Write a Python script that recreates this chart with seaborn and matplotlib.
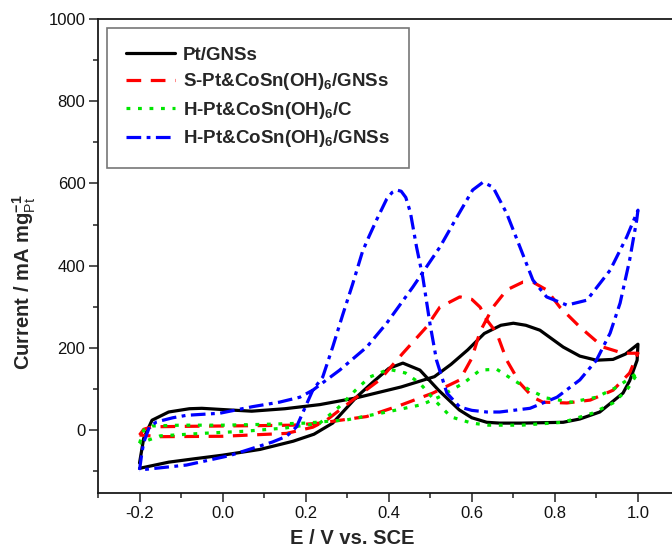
import matplotlib
matplotlib.use("Agg")
import matplotlib.pyplot as plt
from matplotlib.ticker import MultipleLocator
import seaborn as sns
import pandas as pd

# Cyclic voltammograms: anodic sweep from -0.2 V to 1.0 V, then the return sweep.
pt_gnss_E = [-0.2, -0.19, -0.17, -0.13, -0.08, -0.05, 0.0, 0.07, 0.15, 0.234, 0.32, 0.43, 0.51,
             0.55, 0.59, 0.63, 0.67, 0.70, 0.73, 0.764, 0.82, 0.86, 0.90, 0.94, 0.97, 1.0,
             0.998, 0.98, 0.964, 0.908, 0.86, 0.82, 0.72, 0.667, 0.636, 0.60, 0.57, 0.52,
             0.475, 0.434, 0.40, 0.36, 0.322, 0.265, 0.22, 0.17, 0.09, 0.0, -0.07, -0.13, -0.2]
pt_gnss_I = [-80, -20, 24, 44, 52, 53, 50, 46, 52, 62, 78, 105, 130,
             160, 195, 235, 255, 260, 255, 243, 202, 180, 170, 172, 185, 209,
             170, 120, 90, 44, 27, 19, 17, 17, 19, 30, 49, 97,
             146, 163, 150, 115, 80, 17, -10, -27, -47, -61, -70, -78, -93]

s_ptco_E = [-0.2, -0.19, -0.17, -0.1, 0.0, 0.1, 0.17, 0.234, 0.347, 0.427, 0.506, 0.571, 0.60,
            0.62, 0.651, 0.684, 0.723, 0.747, 0.78, 0.812, 0.86, 0.916, 0.964, 1.0,
            0.98, 0.94, 0.885, 0.829, 0.771, 0.747, 0.716, 0.684, 0.66, 0.636, 0.62, 0.60,
            0.571, 0.523, 0.491, 0.434, 0.378, 0.313, 0.25, 0.217, 0.154, 0.0, -0.15, -0.2]
s_ptco_I = [-12, 2, 8, 9, 10, 11, 12, 17, 33, 60, 90, 122, 175,
            240, 299, 341, 360, 360, 341, 299, 251, 202, 187, 187,
            139, 97, 73, 66, 68, 80, 114, 170, 236, 268, 299, 318,
            324, 299, 251, 187, 122, 73, 24, 7, -8, -15, -16, -12]

h_ptco_c_E = [-0.2, -0.19, -0.17, -0.1, 0.0, 0.1, 0.2, 0.3, 0.4, 0.48, 0.52, 0.58, 0.62,
              0.66, 0.70, 0.74, 0.78, 0.84, 0.90, 0.95, 1.0,
              0.973, 0.94, 0.89, 0.82, 0.72, 0.64, 0.60, 0.55, 0.51, 0.475, 0.44, 0.40,
              0.354, 0.32, 0.28, 0.234, 0.15, 0.05, -0.05, -0.15, -0.2]
h_ptco_c_I = [-32, 0, 10, 12, 12, 14, 17, 25, 45, 62, 80, 114, 146,
              148, 122, 97, 78, 68, 80, 105, 140,
              97, 66, 41, 19, 12, 12, 17, 32, 73, 114, 139, 148,
              129, 97, 56, 17, 5, -3, -8, -14, -32]

h_ptco_gnss_E = [-0.2, -0.195, -0.19, -0.176, -0.159, -0.12, -0.087, -0.007, 0.072, 0.137, 0.186,
                 0.217, 0.282, 0.347, 0.395, 0.458, 0.523, 0.564, 0.602, 0.627, 0.651, 0.684,
                 0.716, 0.747, 0.78, 0.829, 0.877, 0.933, 0.973, 1.0,
                 0.997, 0.98, 0.957, 0.933, 0.90, 0.86, 0.805, 0.74, 0.667, 0.636, 0.60, 0.571,
                 0.54, 0.515, 0.499, 0.482, 0.467, 0.452, 0.441, 0.43, 0.419, 0.408, 0.395,
                 0.371, 0.352, 0.337, 0.313, 0.289, 0.265, 0.241, 0.217, 0.178, 0.154, 0.12,
                 0.07, 0.017, -0.087, -0.2]
h_ptco_gnss_I = [-97, -60, -30, 8, 20, 30, 36, 41, 57, 68, 80,
                 97, 146, 202, 260, 348, 445, 518, 584, 603, 591, 527,
                 445, 365, 324, 304, 316, 389, 470, 535,
                 511, 414, 309, 236, 170, 122, 80, 53, 44, 44, 48, 56,
                 90, 170, 260, 372, 445, 530, 566, 581, 584, 578, 562,
                 512, 470, 435, 355, 280, 202, 129, 97, 8, -15, -29,
                 -45, -62, -85, -97]

labels = ["Pt/GNSs", "S-Pt&CoSn(OH)$_6$/GNSs", "H-Pt&CoSn(OH)$_6$/C", "H-Pt&CoSn(OH)$_6$/GNSs"]
colors = ["#000000", "#ff0000", "#00e600", "#0000ff"]

sns.set_theme(style="ticks")
plt.rcParams["font.family"] = ["Liberation Sans", "DejaVu Sans"]
plt.rcParams["mathtext.fontset"] = "custom"
plt.rcParams["mathtext.rm"] = "Liberation Sans"
plt.rcParams["mathtext.bf"] = "Liberation Sans:bold"
plt.rcParams["mathtext.default"] = "bf"

fig = plt.figure(figsize=(6.72, 5.49), dpi=100)
ax = fig.add_axes([98 / 672, 1 - 493 / 549, (679.5 - 98) / 672, (493 - 19) / 549])

series = [(pt_gnss_E, pt_gnss_I), (s_ptco_E, s_ptco_I),
          (h_ptco_c_E, h_ptco_c_I), (h_ptco_gnss_E, h_ptco_gnss_I)]
styles = ["-", (0, (4.6, 3.0)), (0, (1.2, 2.4)), (0, (4.6, 1.7, 1.2, 1.7))]

for (E, I), lab, col, ls in zip(series, labels, colors, styles):
    df = pd.DataFrame({"E": E, "I": I})
    sns.lineplot(data=df, x="E", y="I", sort=False, estimator=None, ax=ax,
                 color=col, linewidth=2.3, linestyle=ls, label=lab)

ax.set_xlim(-0.3, 1.1)
ax.set_ylim(-153, 1000)
ax.xaxis.set_major_locator(MultipleLocator(0.2))
ax.xaxis.set_minor_locator(MultipleLocator(0.1))
ax.yaxis.set_major_locator(MultipleLocator(200))
ax.yaxis.set_minor_locator(MultipleLocator(100))
ax.set_xticks([-0.2, 0.0, 0.2, 0.4, 0.6, 0.8, 1.0])
ax.set_xticklabels(["-0.2", "0.0", "0.2", "0.4", "0.6", "0.8", "1.0"])
ax.set_yticks([0, 200, 400, 600, 800, 1000])

for side in ["left", "bottom", "top"]:
    ax.spines[side].set_linewidth(1.3)
    ax.spines[side].set_color("#1a1a1a")
ax.spines["right"].set_visible(False)
ax.tick_params(which="major", direction="out", length=6.5, width=1.1, colors="#222222",
               labelsize=12, labelcolor="#111111", pad=2.5, top=False, right=False)
ax.tick_params(which="minor", direction="out", length=3.5, width=1.1, colors="#222222",
               top=False, right=False)

ax.set_xlabel("E / V vs. SCE", fontsize=14.5, fontweight="bold")
ax.set_ylabel(r"Current / mA mg$^{-1}_{\mathrm{Pt}}$", fontsize=14.5, fontweight="bold")
ax.xaxis.set_label_coords(0.437, -0.075)
ax.yaxis.set_label_coords(-0.103, 0.445)

leg = ax.legend(loc="upper left", bbox_to_anchor=(107 / 672, 1 - 28 / 549),
                bbox_transform=fig.transFigure, borderaxespad=0, frameon=True,
                fancybox=False, edgecolor="#555555", handlelength=2.6,
                handletextpad=0.45, borderpad=1.0, labelspacing=0.4,
                prop={"family": "Liberation Sans", "weight": "bold", "size": 13.5})
leg.get_frame().set_linewidth(1.2)

fig.savefig("out.png", dpi=100)
